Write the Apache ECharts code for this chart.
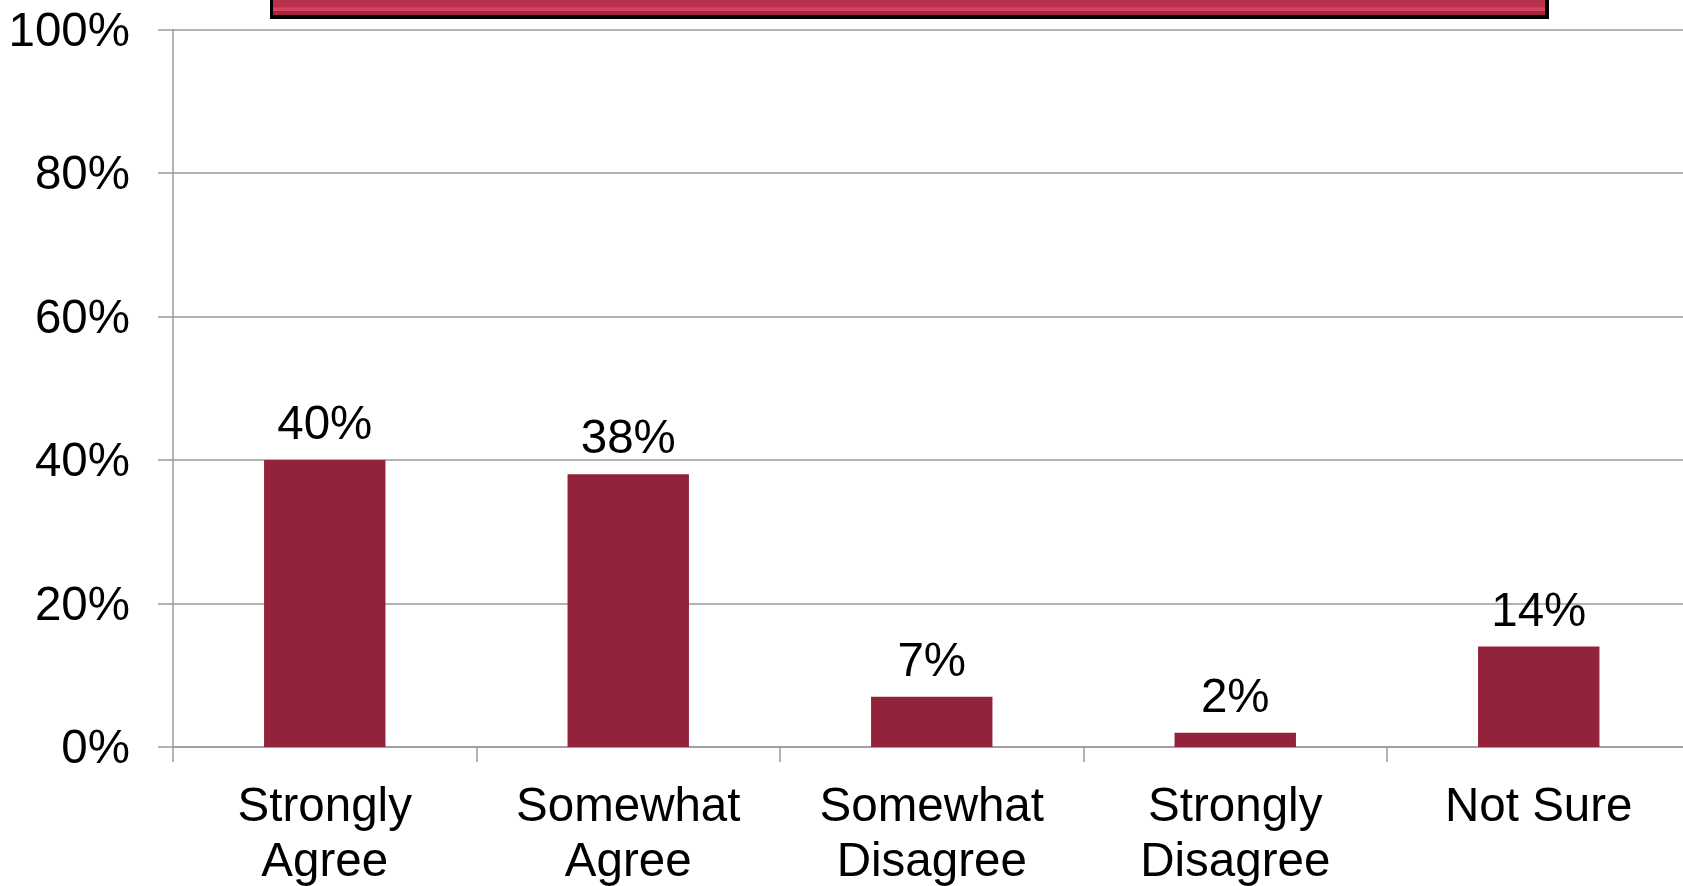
<!DOCTYPE html>
<html>
<head>
<meta charset="utf-8">
<script src="https://cdn.jsdelivr.net/npm/echarts@6/dist/echarts.min.js"></script>
<style>
html,body{margin:0;padding:0;background:#fff;}
#chart{width:1683px;height:886px;}
</style>
</head>
<body>
<div id="chart"></div>
<script>
const categories = ['Strongly\nAgree', 'Somewhat\nAgree', 'Somewhat\nDisagree', 'Strongly\nDisagree', 'Not Sure'];
const values = [40, 38, 7, 2, 14];
const yTicks = [0, 20, 40, 60, 80, 100];

const chart = echarts.init(document.getElementById('chart'));
const FONT = '"Liberation Sans", Arial, sans-serif';
chart.setOption({
  animation: false,
  backgroundColor: '#ffffff',
  grid: { left: 173, top: 29.5, width: 1517.5, height: 717.5, outerBoundsMode: 'none', containLabel: false },
  graphic: [{
    type: 'rect',
    shape: { x: 270, y: -40, width: 1279, height: 59 },
    style: { fill: '#000' },
    z: 100
  }, {
    type: 'rect',
    shape: { x: 273, y: -40, width: 1272, height: 55 },
    style: {
      fill: { type: 'linear', x: 0, y: 0, x2: 0, y2: 1, colorStops: [
        { offset: 0, color: '#b8324d' }, { offset: 0.85, color: '#b8324d' },
        { offset: 0.87, color: '#d6435f' }, { offset: 0.92, color: '#d6435f' },
        { offset: 0.93, color: '#a3273f' }, { offset: 1, color: '#a3273f' }
      ]}
    },
    z: 101
  }],
  xAxis: {
    type: 'category',
    data: categories,
    axisLine: { show: true, lineStyle: { color: '#9a9a9a', width: 1.5 } },
    axisTick: { show: true, length: 15, alignWithLabel: false, lineStyle: { color: '#9a9a9a', width: 1.5 } },
    axisLabel: { color: '#000', fontFamily: FONT, fontSize: 47.5, lineHeight: 55, margin: 33, interval: 0 },
    splitLine: { show: false }
  },
  yAxis: {
    type: 'value',
    min: yTicks[0], max: yTicks[yTicks.length - 1], interval: 20,
    axisLine: { show: true, lineStyle: { color: '#9a9a9a', width: 1.5 } },
    axisTick: { show: true, length: 15, lineStyle: { color: '#9a9a9a', width: 1.5 } },
    axisLabel: {
      color: '#000', fontFamily: FONT, fontSize: 47.5, margin: 43,
      formatter: function (v) { return '{p|' + v + '%}'; },
      rich: { p: { color: '#000', fontFamily: FONT, fontSize: 47.5, padding: [6, 0, 0, 0] } }
    },
    splitLine: { show: true, lineStyle: { color: '#9a9a9a', width: 1.5 } }
  },
  series: [{
    type: 'bar',
    data: values,
    barWidth: '40%',
    itemStyle: { color: '#93233a' },
    label: { show: true, position: 'top', distance: 10, color: '#000', fontFamily: FONT, fontSize: 47.5, formatter: '{c}%' }
  }]
});
</script>
</body>
</html>
